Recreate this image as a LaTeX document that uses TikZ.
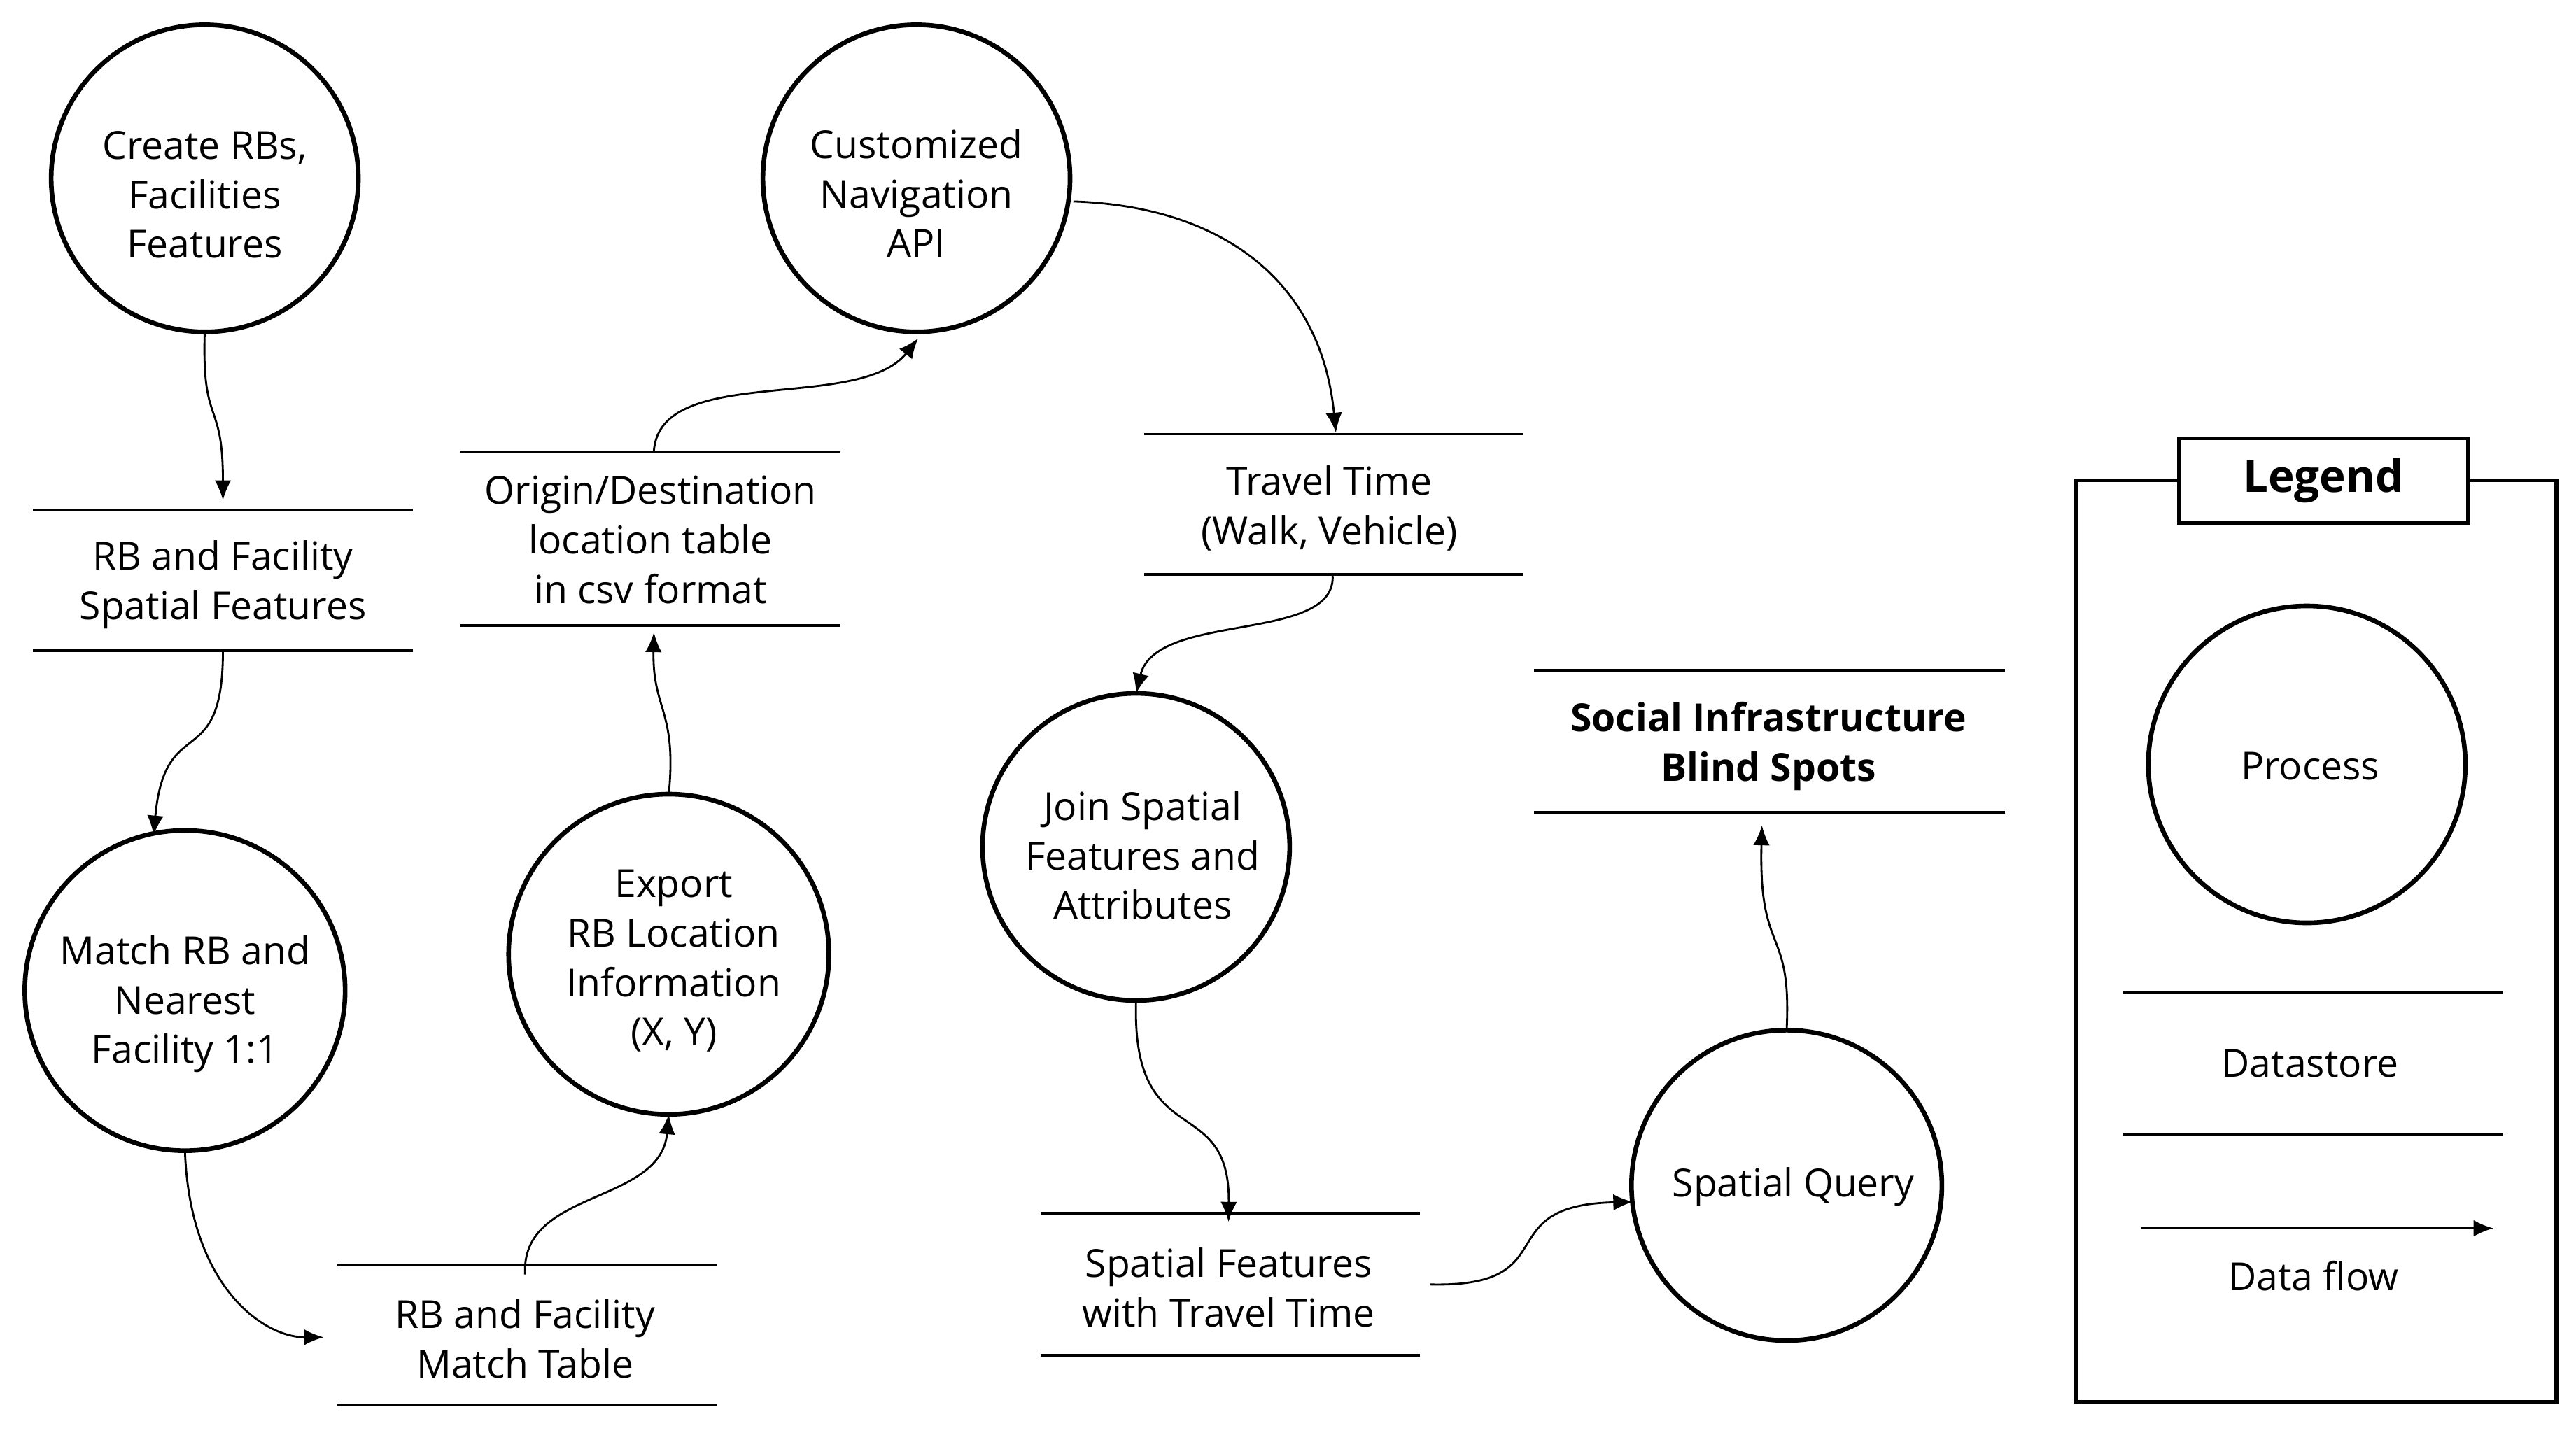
\documentclass[tikz,border=0pt]{standalone}
\usepackage{fontspec}
\setmainfont{Open Sans}
\usetikzlibrary{arrows.meta}
\begin{document}
\begin{tikzpicture}[x=0.5pt,y=-0.5pt,
  proc/.style={circle,draw,line width=1.4pt,inner sep=0pt},
  txt/.style={align=center,font=\fontsize{11.7}{15}\selectfont},
  ds/.style={line width=0.8pt},
  flow/.style={line width=0.6pt,-{Latex[length=6pt,width=5pt]}}]
\useasboundingbox (0,0) rectangle (1560,869);
% processes
\node[proc,minimum size=93pt] (c1) at (124,108) {};
\node[txt] at (124,118) {Create RBs,\\Facilities\\Features};
\node[proc,minimum size=93pt] (c2) at (555,108) {};
\node[txt] at (555,117) {Customized\\Navigation\\API};
\node[proc,minimum size=97pt] (c3) at (112,600) {};
\node[txt] at (112,608) {Match RB and\\Nearest\\Facility 1:1};
\node[proc,minimum size=97pt] (c4) at (405,578) {};
\node[txt] at (408,582) {Export\\RB Location\\Information\\(X, Y)};
\node[proc,minimum size=93pt] (c5) at (688,513) {};
\node[txt] at (692,518) {Join Spatial\\Features and\\Attributes};
\node[proc,minimum size=94pt] (c6) at (1082,718) {};
\node[txt] at (1086,719) {Spatial Query};
% datastores
\draw[ds] (20,309) -- (250,309) (20,394) -- (250,394);
\node[txt] (d1) at (135,354) {RB and Facility\\Spatial Features};
\draw[ds] (279,274) -- (509,274) (279,379) -- (509,379);
\node[txt] (d2) at (394,327) {Origin/Destination\\location table\\in csv format};
\draw[ds] (693,263) -- (922,263) (693,348) -- (922,348);
\node[txt] (d3) at (805,308) {Travel Time\\(Walk, Vehicle)};
\draw[ds] (929,406) -- (1214,406) (929,492) -- (1214,492);
\node[align=center,font=\fontsize{11.7}{15}\selectfont\bfseries] (d4) at (1071,452) {Social Infrastructure\\Blind Spots};
\draw[ds] (204,766) -- (434,766) (204,851) -- (434,851);
\node[txt] (d5) at (318,811) {RB and Facility\\Match Table};
\draw[ds] (630,735) -- (860,735) (630,821) -- (860,821);
\node[txt] (d6) at (744,780) {Spatial Features\\with Travel Time};
% flow endpoints
\coordinate (a1s) at (124,200); \coordinate (a1e) at (135,303);
\coordinate (a2s) at (135,394); \coordinate (a2e) at (93,506);
\coordinate (a3s) at (112,697); \coordinate (a3e) at (196,810);
\coordinate (a4s) at (318,772); \coordinate (a4e) at (405,675);
\coordinate (a5s) at (405,481); \coordinate (a5e) at (396,383);
\coordinate (a6s) at (396,273); \coordinate (a6e) at (556,205);
\coordinate (a7s) at (650,122); \coordinate (a7e) at (809,262);
\coordinate (a8s) at (807,348); \coordinate (a8e) at (688,420);
\coordinate (a9s) at (688,606); \coordinate (a9e) at (744,740);
\coordinate (a10s) at (866,778); \coordinate (a10e) at (989,728);
\coordinate (a11s) at (1082,623); \coordinate (a11e) at (1067,500);
\draw[flow] (a1s) .. controls (122,260) and (135,240) .. (a1e);
\draw[flow] (a2s) .. controls (135,470) and (100,430) .. (a2e);
\draw[flow] (a3s) .. controls (115,780) and (160,810) .. (a3e);
\draw[flow] (a4s) .. controls (315,720) and (400,730) .. (a4e);
\draw[flow] (a5s) .. controls (410,430) and (395,430) .. (a5e);
\draw[flow] (a6s) .. controls (400,220) and (520,250) .. (a6e);
\draw[flow] (a7s) .. controls (740,125) and (800,170) .. (a7e);
\draw[flow] (a8s) .. controls (810,390) and (700,370) .. (a8e);
\draw[flow] (a9s) .. controls (685,700) and (745,660) .. (a9e);
\draw[flow] (a10s) .. controls (950,780) and (900,730) .. (a10e);
\draw[flow] (a11s) .. controls (1085,560) and (1065,580) .. (a11e);
% legend
\draw[line width=1.2pt] (1257,291) rectangle (1548,849);
\node[draw,line width=1.2pt,fill=white,minimum width=87.5pt,minimum height=25.5pt,
  font=\fontsize{13.5}{16}\selectfont\bfseries] (lg) at (1407,291) {Legend};
\node[proc,minimum size=96pt] (lc) at (1397,463) {};
\node[txt] at (1399,464) {Process};
\draw[ds] (1286,601) -- (1516,601) (1286,687) -- (1516,687);
\node[txt] (lds) at (1399,644) {Datastore};
\coordinate (lfs) at (1297,744); \coordinate (lfe) at (1510,744);
\draw[flow] (lfs) -- (lfe);
\node[txt] (lf) at (1401,773) {Data flow};
\end{tikzpicture}
\end{document}
